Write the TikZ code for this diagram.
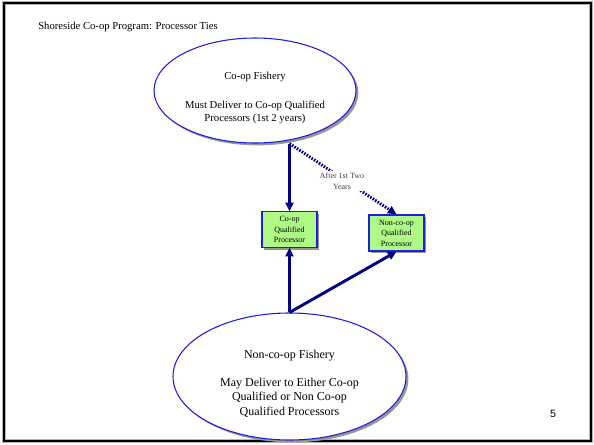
\documentclass[tikz,border=0pt]{standalone}
\usepackage{fontspec}
\setmainfont{Liberation Serif}
\newfontfamily\arialf{Liberation Sans}
\usetikzlibrary{shapes.geometric,shadows,arrows.meta,calc}
\definecolor{navy}{RGB}{0,0,128}
\definecolor{ellblue}{RGB}{30,30,225}
\definecolor{boxgreen}{RGB}{175,250,135}
\definecolor{shad}{RGB}{150,150,150}
\begin{document}
\begin{tikzpicture}[x=0.75pt,y=-0.75pt,
  fishery/.style={ellipse,draw=ellblue,line width=0.8pt,fill=white,inner sep=0pt,
    drop shadow={shadow xshift=1.8pt,shadow yshift=-1.8pt,fill=shad,opacity=1}},
  procbox/.style={rectangle,draw=ellblue,line width=0.9pt,fill=boxgreen,inner sep=0pt,
    minimum width=41.25pt,minimum height=26.5pt,align=center,
    font=\fontsize{6}{7.9}\selectfont,
    drop shadow={shadow xshift=1.8pt,shadow yshift=-1.8pt,fill=shad,opacity=1}},
  flow/.style={draw=navy,line width=2.2pt,-{Triangle[length=6.5pt,width=6pt]}},
  later/.style={flow,dash pattern=on 1.2pt off 1pt}
]
\useasboundingbox (0,0) rectangle (594,444);
\draw[gray!60,line width=2.6pt] (4,3) rectangle (591,441);
\draw[black,line width=1.5pt] (4,3) rectangle (591,441);

\node[anchor=west,inner sep=0pt,font=\fontsize{8}{9.6}\selectfont] (title) at (38,27) {Shoreside Co-op Program: Processor Ties};

\node[fishery,minimum width=151.5pt,minimum height=78.75pt] (coop) at (255,90.5) {};
\node[align=center,inner sep=0pt,font=\fontsize{8}{9.75}\selectfont] (cooptext) at (255,98)
  {Co-op Fishery\\[12pt]Must Deliver to Co-op Qualified\\Processors (1st 2 years)};

\node[fishery,minimum width=174.75pt,minimum height=95.25pt] (noncoop) at (289.5,376.5) {};
\node[align=center,inner sep=0pt,font=\fontsize{9}{10.9}\selectfont] (noncooptext) at (289.5,383.5)
  {Non-co-op Fishery\\[10pt]May Deliver to Either Co-op\\Qualified or Non Co-op\\Qualified Processors};

\node[procbox] (cqp) at (289.5,229.5) {Co-op\\Qualified\\Processor};
\node[procbox,minimum height=27pt] (ncqp) at (396.5,233) {Non-co-op\\Qualified\\Processor};

\coordinate (split) at (cqp.north |- coop.south);
\draw[flow] (split) -- (cqp.north);
\draw[later] (split) -- (ncqp.north);
\node[fill=white,inner sep=1pt,align=center,text=black!75,font=\fontsize{6}{8}\selectfont] (after) at (342,181) {After 1st Two\\Years};

\draw[flow] (noncoop.north) -- (cqp.south);
\draw[flow] (noncoop.north) -- (ncqp.south);

\node[font=\arialf\fontsize{8}{9}\selectfont] (pagenum) at (553,414) {5};
\end{tikzpicture}
\end{document}
